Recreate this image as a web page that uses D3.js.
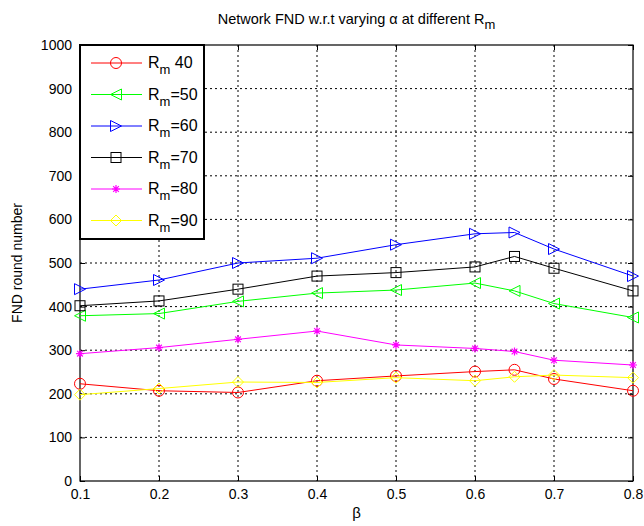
<!DOCTYPE html>
<html>
<head>
<meta charset="utf-8">
<script src="https://cdn.jsdelivr.net/npm/d3@7"></script>
<style>
  body { margin: 0; background: #fff; }
  svg { font-family: "Liberation Sans", Arial, sans-serif; }
</style>
</head>
<body>
<div id="chart"></div>
<script>
const betas = [0.1, 0.2, 0.3, 0.4, 0.5, 0.6, 0.65, 0.7, 0.8];
const rm40 = [223, 207, 203, 230, 241, 251, 255, 234, 207];
const rm50 = [379, 384, 412, 431, 438, 454, 436, 407, 375];
const rm60 = [440, 461, 500, 511, 542, 567, 570, 532, 470];
const rm70 = [402, 413, 440, 470, 478, 491, 515, 488, 436];
const rm80 = [292, 306, 325, 344, 312, 304, 297, 277, 266];
const rm90 = [198, 212, 227, 226, 237, 230, 239, 243, 237];
const xTicks = [0.1, 0.2, 0.3, 0.4, 0.5, 0.6, 0.7, 0.8];
const yTicks = [0, 100, 200, 300, 400, 500, 600, 700, 800, 900, 1000];

const series = [
  { sep: ' ', num: '40', values: rm40, color: '#ff0000', marker: 'circle' },
  { sep: '=', num: '50', values: rm50, color: '#00ff00', marker: 'triLeft' },
  { sep: '=', num: '60', values: rm60, color: '#0000ff', marker: 'triRight' },
  { sep: '=', num: '70', values: rm70, color: '#000000', marker: 'square' },
  { sep: '=', num: '80', values: rm80, color: '#ff00ff', marker: 'star' },
  { sep: '=', num: '90', values: rm90, color: '#ffff00', marker: 'diamond' }
];

const width = 644, height = 526;
const margin = { left: 80, top: 45, right: 11, bottom: 45 };
const plotW = width - margin.left - margin.right;
const plotH = height - margin.top - margin.bottom;

const svg = d3.select('#chart').append('svg')
  .attr('width', width)
  .attr('height', height);

const x = d3.scaleLinear().domain([0.1, 0.8]).range([0, plotW]);
const y = d3.scaleLinear().domain([0, 1000]).range([plotH, 0]);

const g = svg.append('g')
  .attr('transform', `translate(${margin.left},${margin.top})`);

// grid
g.selectAll('.vgrid')
  .data(xTicks.slice(1, -1))
  .join('line')
  .attr('x1', d => x(d)).attr('x2', d => x(d))
  .attr('y1', 0).attr('y2', plotH)
  .attr('stroke', '#000').attr('stroke-width', 1)
  .attr('stroke-dasharray', '2,3');

g.selectAll('.hgrid')
  .data(yTicks.slice(1, -1))
  .join('line')
  .attr('x1', 0).attr('x2', plotW)
  .attr('y1', d => y(d)).attr('y2', d => y(d))
  .attr('stroke', '#000').attr('stroke-width', 1)
  .attr('stroke-dasharray', '2,3');

// axes (ticks inward, mirrored)
const tickLen = 5;
g.append('g')
  .attr('transform', `translate(0,${plotH})`)
  .call(d3.axisBottom(x).tickValues(xTicks).tickSizeInner(-tickLen).tickSizeOuter(0).tickPadding(8).tickFormat(d3.format('.1f')));
g.append('g')
  .call(d3.axisTop(x).tickValues(xTicks).tickSizeInner(-tickLen).tickSizeOuter(0).tickFormat(''));
g.append('g')
  .call(d3.axisLeft(y).tickValues(yTicks).tickSizeInner(-tickLen).tickSizeOuter(0).tickPadding(8).tickFormat(d3.format('d')));
g.append('g')
  .attr('transform', `translate(${plotW},0)`)
  .call(d3.axisRight(y).tickValues(yTicks).tickSizeInner(-tickLen).tickSizeOuter(0).tickFormat(''));

g.selectAll('.domain').remove();
g.selectAll('.tick line').attr('stroke', '#000');
g.selectAll('.tick text').attr('font-size', 14).attr('fill', '#000')
  .attr('font-family', '"Liberation Sans", Arial, sans-serif');

g.append('rect')
  .attr('width', plotW).attr('height', plotH)
  .attr('fill', 'none').attr('stroke', '#000').attr('stroke-width', 1.2);

// markers
function drawMarker(sel, type, color) {
  const s = 5.5;
  if (type === 'circle') {
    sel.append('circle').attr('r', s).attr('fill', 'none').attr('stroke', color);
  } else if (type === 'square') {
    sel.append('rect').attr('x', -s + 0.5).attr('y', -s + 0.5)
      .attr('width', 2 * s - 1).attr('height', 2 * s - 1)
      .attr('fill', 'none').attr('stroke', color);
  } else if (type === 'triLeft') {
    sel.append('path').attr('d', `M${-s},0L${s},${-s}L${s},${s}Z`)
      .attr('fill', 'none').attr('stroke', color);
  } else if (type === 'triRight') {
    sel.append('path').attr('d', `M${s},0L${-s},${-s}L${-s},${s}Z`)
      .attr('fill', 'none').attr('stroke', color);
  } else if (type === 'diamond') {
    sel.append('path').attr('d', `M0,${-s}L${s},0L0,${s}L${-s},0Z`)
      .attr('fill', 'none').attr('stroke', color);
  } else if (type === 'star') {
    const r = 4;
    const d = [0, 45, 90, 135].map(a => {
      const rad = a * Math.PI / 180;
      return `M${-r * Math.cos(rad)},${-r * Math.sin(rad)}L${r * Math.cos(rad)},${r * Math.sin(rad)}`;
    }).join('');
    sel.append('path').attr('d', d).attr('stroke', color).attr('stroke-width', 1.2);
  }
}

const line = d3.line()
  .x((d, i) => x(betas[i]))
  .y(d => y(d));

series.forEach(s => {
  g.append('path')
    .datum(s.values)
    .attr('d', line)
    .attr('fill', 'none')
    .attr('stroke', s.color)
    .attr('stroke-width', 1);

  g.selectAll(null)
    .data(s.values)
    .join('g')
    .attr('transform', (d, i) => `translate(${x(betas[i])},${y(d)})`)
    .each(function () { drawMarker(d3.select(this), s.marker, s.color); });
});

// legend
const legendW = 124, legendH = 194, rowH = 31.5;
const legend = g.append('g');
legend.append('rect')
  .attr('x', 0).attr('y', 0)
  .attr('width', legendW).attr('height', legendH)
  .attr('fill', '#fff').attr('stroke', '#000').attr('stroke-width', 2);

series.forEach((s, i) => {
  const row = legend.append('g')
    .attr('transform', `translate(0,${18 + i * rowH})`);
  row.append('line')
    .attr('x1', 11).attr('x2', 62).attr('y1', 0).attr('y2', 0)
    .attr('stroke', s.color);
  const m = row.append('g').attr('transform', 'translate(36,0)');
  drawMarker(m, s.marker, s.color);
  const t = row.append('text')
    .attr('x', 68).attr('y', 5)
    .attr('font-size', 16).attr('fill', '#000');
  t.append('tspan').text('R');
  t.append('tspan').attr('font-size', 13).attr('dy', 6).text('m');
  t.append('tspan').attr('dy', -6).text(s.sep + s.num);
});

// title
const title = svg.append('text')
  .attr('x', margin.left + plotW / 2)
  .attr('y', 24)
  .attr('text-anchor', 'middle')
  .attr('font-size', 14.5)
  .attr('fill', '#000');
title.append('tspan').text('Network FND w.r.t varying α  at different R');
title.append('tspan').attr('font-size', 13).attr('dy', 5).text('m');

// axis labels
svg.append('text')
  .attr('x', margin.left + plotW / 2)
  .attr('y', 518)
  .attr('text-anchor', 'middle')
  .attr('font-size', 15)
  .attr('fill', '#000')
  .text('β');

svg.append('text')
  .attr('transform', `translate(22,${margin.top + plotH / 2}) rotate(-90)`)
  .attr('text-anchor', 'middle')
  .attr('font-size', 14)
  .attr('fill', '#000')
  .text('FND round number');
</script>
</body>
</html>
